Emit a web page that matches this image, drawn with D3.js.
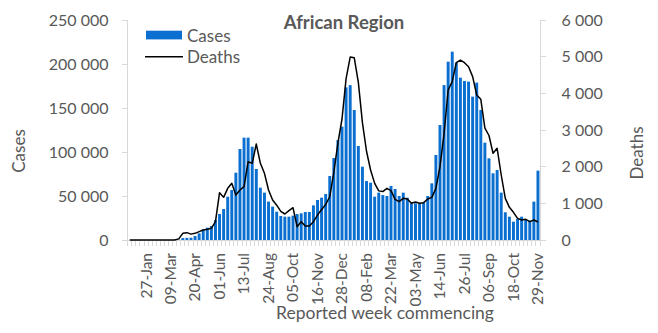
<!DOCTYPE html>
<html><head><meta charset="utf-8">
<script src="https://cdn.jsdelivr.net/npm/d3@7"></script>
<style>
body{margin:0;background:#fff;}
svg{display:block;font-family:Lato, "Liberation Sans", sans-serif;}
</style></head><body>
<svg id="c" width="658" height="333"></svg>
<script>
const startWeek = "2019-12-30";
const tickLabels = ["27-Jan","09-Mar","20-Apr","01-Jun","13-Jul","24-Aug","05-Oct","16-Nov","28-Dec","08-Feb","22-Mar","03-May","14-Jun","26-Jul","06-Sep","18-Oct","29-Nov"];
const casesTicks = [0,50000,100000,150000,200000,250000];
const deathsTicks = [0,1000,2000,3000,4000,5000,6000];
const cases = [0,0,0,0,0,0,0,0,0,0,40,150,400,
2200,2400,2600,4500,7600,12100,14000,15900,22700,29500,35200,49200,56800,76500,103400,116300,116300,106000,80700,59500,53800,43600,37900,32200,27300,26500,26500,27700,29500,30300,31800,31800,39400,45500,48100,52300,72700,93200,113600,
128800,173500,176000,147700,106800,83300,67000,65100,49200,53800,51100,50000,61400,58000,50000,53800,48100,41700,41700,41700,42400,50000,64400,96600,130700,
176000,202600,214000,201500,184500,180700,180000,162900,178800,147700,110600,92800,75800,79500,53800,31500,26500,20800,23900,26500,22700,22000,43600,78800];
const deaths = [0,0,0,0,0,0,0,0,0,0,0,0,30,
182,200,160,182,227,273,291,318,500,1291,1164,1409,1545,1227,1364,1455,2136,2091,2618,2091,1818,1364,1091,950,780,709,800,880,364,500,382,382,500,680,830,970,1180,1850,2650,
3300,4400,4990,4970,4300,3200,2420,1909,1545,1340,1320,1409,1345,1109,1045,1136,1118,1000,1036,1000,1018,1118,1164,1409,2000,
2900,4091,4318,4836,4909,4836,4727,4455,3955,3836,3050,2850,2364,2500,1773,1136,891,755,591,545,564,500,545,491];

const N = cases.length;
const fmtDate = d3.utcFormat("%d-%b");
const t0 = new Date(startWeek + "T00:00:00Z");
const weeks = d3.range(N).map(i => fmtDate(d3.utcDay.offset(t0, 7*i)));

const svg = d3.select("#c");
const L = 127.7, R = 540, T = 20, B = 240;
const grey = "#d9d9d9", txt = "#595959";
const blue = "#0a6fd0";

const x = d3.scaleBand().domain(d3.range(N)).range([L, R]).paddingInner(0.28).paddingOuter(0.14);
const y = d3.scaleLinear().domain([0, 250000]).range([B, T]);
const y2 = d3.scaleLinear().domain([0, 6000]).range([B, T]);
const fmtNum = v => d3.format(",")(v).replace(/,/g, " ");

// bars
svg.append("g").selectAll("rect").data(cases).join("rect")
  .attr("x", (d,i) => x(i)).attr("width", x.bandwidth())
  .attr("y", d => y(d)).attr("height", d => B - y(d))
  .attr("fill", blue);

// axes lines
const ax = svg.append("g").attr("stroke", grey).attr("stroke-width", 1).attr("shape-rendering","crispEdges");
ax.append("line").attr("x1", L).attr("x2", L).attr("y1", T).attr("y2", B);
ax.append("line").attr("x1", R).attr("x2", R).attr("y1", T).attr("y2", B);
ax.append("line").attr("x1", L-6).attr("x2", R+6).attr("y1", B).attr("y2", B);
casesTicks.forEach(v => ax.append("line").attr("x1", L-6).attr("x2", L).attr("y1", y(v)).attr("y2", y(v)));
deathsTicks.forEach(v => ax.append("line").attr("x1", R).attr("x2", R+6).attr("y1", y2(v)).attr("y2", y2(v)));
const step = x.step();
d3.range(N+1).forEach(i => {
  const xx = L + i*step;
  ax.append("line").attr("x1", xx).attr("x2", xx).attr("y1", B).attr("y2", B+6);
});

// deaths line
const line = d3.line().x((d,i) => x(i) + x.bandwidth()/2).y(d => y2(d));
svg.append("path").datum(deaths).attr("d", line).attr("fill","none")
  .attr("stroke","#000").attr("stroke-width",1.5).attr("stroke-linejoin","round");

// left tick labels
svg.append("g").selectAll("text").data(casesTicks).join("text")
  .attr("x", 108.5).attr("y", d => y(d)).attr("dy","0.35em")
  .attr("text-anchor","end").attr("fill",txt).attr("font-size",16)
  .text(fmtNum);
// right tick labels
svg.append("g").selectAll("text").data(deathsTicks).join("text")
  .attr("x", 561.5).attr("y", d => y2(d)).attr("dy","0.35em")
  .attr("text-anchor","start").attr("fill",txt).attr("font-size",16)
  .text(fmtNum);
// x tick labels
const lbl = d3.range(N).filter(i => tickLabels.includes(weeks[i]));
svg.append("g").selectAll("text").data(lbl).join("text")
  .attr("transform", i => `translate(${x(i)+x.bandwidth()/2},253) rotate(-90)`)
  .attr("dy","0.35em").attr("text-anchor","end").attr("fill",txt).attr("font-size",15.5)
  .text(i => weeks[i]);

// titles
svg.append("text").attr("x", 344).attr("y", 29).attr("text-anchor","middle")
  .attr("font-weight","bold").attr("font-size",18.5).attr("fill",txt).text("African Region");
svg.append("text").attr("x", 385).attr("y", 318.5).attr("text-anchor","middle")
  .attr("font-size",17.5).attr("fill",txt).text("Reported week commencing");
svg.append("text").attr("transform","translate(25,151) rotate(-90)").attr("text-anchor","middle")
  .attr("font-size",17).attr("fill",txt).text("Cases");
svg.append("text").attr("transform","translate(643,153) rotate(-90)").attr("text-anchor","middle")
  .attr("font-size",17).attr("fill",txt).text("Deaths");

// legend
svg.append("rect").attr("x",146).attr("y",30.7).attr("width",36).attr("height",8.7).attr("fill",blue);
svg.append("text").attr("x",187).attr("y",41.5).attr("font-size",17).attr("fill",txt).text("Cases");
svg.append("line").attr("x1",145).attr("x2",183).attr("y1",56.7).attr("y2",56.7).attr("stroke","#000").attr("stroke-width",1.5);
svg.append("text").attr("x",187).attr("y",63).attr("font-size",17).attr("fill",txt).text("Deaths");
</script>
</body></html>
